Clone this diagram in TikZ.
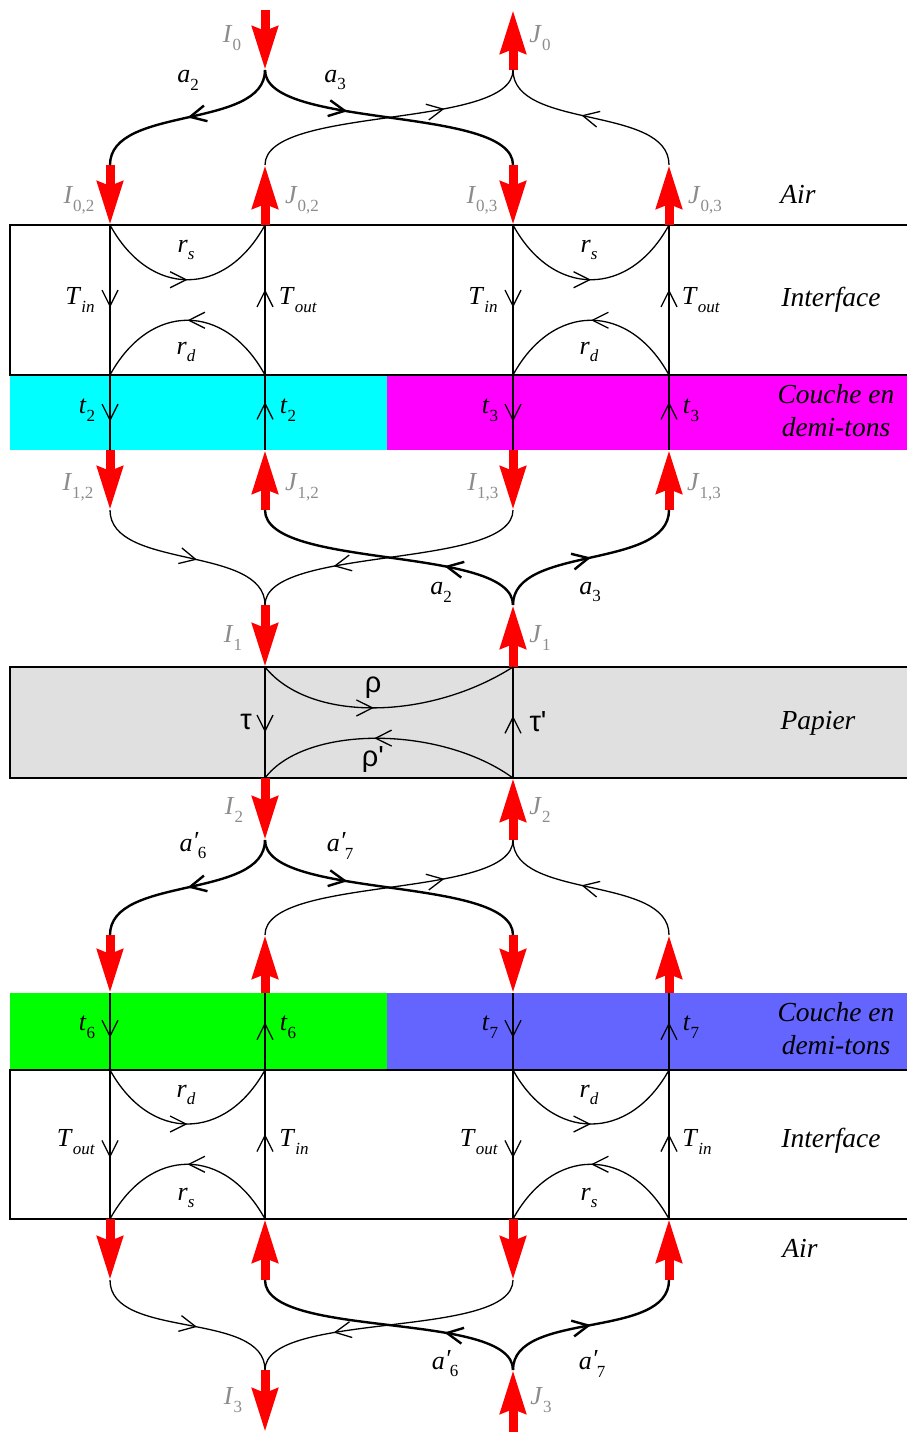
\documentclass[tikz,border=0pt]{standalone}
\usepackage{fontspec}
\setmainfont{Liberation Serif}
\newfontfamily\grk{Liberation Sans}
\usetikzlibrary{arrows.meta,decorations.markings}
\definecolor{lgray}{RGB}{224,224,224}
\definecolor{tgray}{RGB}{140,140,140}
\definecolor{hblue}{RGB}{100,100,255}
\definecolor{hcyan}{RGB}{0,255,255}
\definecolor{hmag}{RGB}{255,0,255}
\definecolor{hgreen}{RGB}{0,255,0}
\definecolor{hred}{RGB}{255,0,0}
\newcommand\sbs[1]{\raisebox{-0.3em}{\fontsize{17}{17}\selectfont #1}}
\newcommand\vr[2]{\textit{#1}\sbs{#2}}
\newcommand\ap[1]{\textit{a}\raisebox{0.05em}{\textit{\char"2032}}\kern-1pt\sbs{#1}}
\begin{document}
\begin{tikzpicture}[x=1pt,y=-1pt,
 redarr/.style={draw=hred,line width=9pt,-{Stealth[length=43pt,width=25pt,inset=4pt,fill=hred]}},
 thinc/.style={line width=1.3pt},
 thickc/.style={line width=2.4pt},
 midarr/.style={postaction={decorate},decoration={markings,mark=at position #1 with {\arrow{Straight Barb[length=16pt,width=16pt]}}}},
 lab/.style={font=\fontsize{26}{30}\selectfont, inner sep=0pt},
 glab/.style={lab,text=tgray},
 side/.style={inner sep=0pt,font=\fontsize{27.5}{33}\selectfont\itshape,align=center},
 grl/.style={inner sep=0pt,font=\fontsize{29}{30}\selectfont\grk},
 layer/.style={line width=1.5pt}]
\useasboundingbox (0,0) rectangle (907,1434);
% layers
\fill[hcyan] (10,375) rectangle (387,450);
\fill[hmag] (387,375) rectangle (907,450);
\fill[lgray] (10,667) rectangle (907,778);
\fill[hgreen] (10,993) rectangle (387,1070);
\fill[hblue] (387,993) rectangle (907,1070);
\draw[layer] (907,225) -- (10,225) -- (10,375) -- (907,375);
\draw[layer] (907,667) -- (10,667) -- (10,778) -- (907,778);
\draw[layer] (907,1070) -- (10,1070) -- (10,1219) -- (907,1219);
% coordinates
\coordinate (I0s) at (265,10); \coordinate (S0) at (265,70);
\coordinate (J0e) at (513,10); \coordinate (T0) at (513,70);
\foreach \n/\x in {A/110,B/265,C/513,D/669}{
  \coordinate (\n1) at (\x,165); \coordinate (\n2) at (\x,225);
  \coordinate (\n3) at (\x,375); \coordinate (\n4) at (\x,450);
  \coordinate (\n5) at (\x,510);
  \coordinate (\n6) at (\x,935); \coordinate (\n7) at (\x,993);
  \coordinate (\n8) at (\x,1070); \coordinate (\n9) at (\x,1219);
  \coordinate (\n10) at (\x,1280);}
\coordinate (S1) at (265,605); \coordinate (T1) at (513,605);
\coordinate (P1) at (265,667); \coordinate (Q1) at (513,667);
\coordinate (P2) at (265,778); \coordinate (Q2) at (513,778);
\coordinate (S2) at (265,840); \coordinate (T2) at (513,840);
\coordinate (S3) at (265,1370); \coordinate (T3) at (513,1370);
\coordinate (I3e) at (265,1432); \coordinate (J3s) at (513,1432);
% red arrows
\draw[redarr] (I0s) -- (S0); \draw[redarr] (T0) -- (J0e);
\draw[redarr] (A1) -- (A2); \draw[redarr] (B2) -- (B1);
\draw[redarr] (C1) -- (C2); \draw[redarr] (D2) -- (D1);
\draw[redarr] (A4) -- (A5); \draw[redarr] (B5) -- (B4);
\draw[redarr] (C4) -- (C5); \draw[redarr] (D5) -- (D4);
\draw[redarr] (S1) -- (P1); \draw[redarr] (Q1) -- (T1);
\draw[redarr] (P2) -- (S2); \draw[redarr] (T2) -- (Q2);
\draw[redarr] (A6) -- (A7); \draw[redarr] (B7) -- (B6);
\draw[redarr] (C6) -- (C7); \draw[redarr] (D7) -- (D6);
\draw[redarr] (A9) -- (A10); \draw[redarr] (B10) -- (B9);
\draw[redarr] (C9) -- (C10); \draw[redarr] (D10) -- (D9);
\draw[redarr] (S3) -- (I3e); \draw[redarr] (J3s) -- (T3);
% top crossing
\draw[thickc,midarr=0.5] (S0) .. controls +(0,60) and +(0,-60) .. (A1);
\draw[thickc,midarr=0.35] (S0) .. controls +(0,60) and +(0,-60) .. (C1);
\draw[thinc,midarr=0.7] (B1) .. controls +(0,-60) and +(0,60) .. (T0);
\draw[thinc,midarr=0.55] (D1) .. controls +(0,-60) and +(0,60) .. (T0);
% interface 1 and halftone 1, halftone 2 and interface 2
\foreach \u/\v in {A/B,C/D}{
  \draw[thinc,midarr=0.55] (\u2) -- (\u3);
  \draw[thinc,midarr=0.57] (\v3) -- (\v2);
  \draw[thinc,midarr=0.5] (\u2) .. controls +(40,73) and +(-40,73) .. (\v2);
  \draw[thinc,midarr=0.5] (\v3) .. controls +(-40,-73) and +(40,-73) .. (\u3);
  \draw[thinc,midarr=0.62] (\u3) -- (\u4);
  \draw[thinc,midarr=0.64] (\v4) -- (\v3);
  \draw[thinc,midarr=0.58] (\u7) -- (\u8);
  \draw[thinc,midarr=0.62] (\v8) -- (\v7);
  \draw[thinc,midarr=0.59] (\u8) -- (\u9);
  \draw[thinc,midarr=0.57] (\v9) -- (\v8);
  \draw[thinc,midarr=0.5] (\u8) .. controls +(40,72) and +(-40,72) .. (\v8);
  \draw[thinc,midarr=0.5] (\v9) .. controls +(-40,-73) and +(40,-73) .. (\u9);}
% middle crossing
\draw[thinc,midarr=0.55] (A5) .. controls +(0,60) and +(0,-60) .. (S1);
\draw[thinc,midarr=0.7] (C5) .. controls +(0,60) and +(0,-60) .. (S1);
\draw[thickc,midarr=0.3] (T1) .. controls +(0,-60) and +(0,60) .. (B5);
\draw[thickc,midarr=0.5] (T1) .. controls +(0,-60) and +(0,60) .. (D5);
% paper
\draw[thinc,midarr=0.59] (P1) -- (P2);
\draw[thinc,midarr=0.56] (Q2) -- (Q1);
\draw[thinc,midarr=0.45] (P1) .. controls +(45,56) and +(-83,53) .. (Q1);
\draw[thinc,midarr=0.55] (Q2) .. controls +(-73,-53) and +(40,-53) .. (P2);
% lower crossing
\draw[thickc,midarr=0.5] (S2) .. controls +(0,60) and +(0,-60) .. (A6);
\draw[thickc,midarr=0.35] (S2) .. controls +(0,60) and +(0,-60) .. (C6);
\draw[thinc,midarr=0.7] (B6) .. controls +(0,-60) and +(0,60) .. (T2);
\draw[thinc,midarr=0.55] (D6) .. controls +(0,-60) and +(0,60) .. (T2);
% bottom crossing
\draw[thinc,midarr=0.55] (A10) .. controls +(0,60) and +(0,-60) .. (S3);
\draw[thinc,midarr=0.7] (C10) .. controls +(0,60) and +(0,-60) .. (S3);
\draw[thickc,midarr=0.3] (T3) .. controls +(0,-60) and +(0,60) .. (B10);
\draw[thickc,midarr=0.5] (T3) .. controls +(0,-60) and +(0,60) .. (D10);
% gray labels
\node[glab] (lI0) at (232,38) {\vr{I}{0}};
\node[glab] (lJ0) at (540,38) {\vr{J}{0}};
\node[glab] (lI02) at (79,200) {\vr{I}{0,2}};
\node[glab] (lJ02) at (302,200) {\vr{J}{0,2}};
\node[glab] (lI03) at (482,200) {\vr{I}{0,3}};
\node[glab] (lJ03) at (705,200) {\vr{J}{0,3}};
\node[glab] (lI12) at (78,487) {\vr{I}{1,2}};
\node[glab] (lJ12) at (302,487) {\vr{J}{1,2}};
\node[glab] (lI13) at (483,487) {\vr{I}{1,3}};
\node[glab] (lJ13) at (704,487) {\vr{J}{1,3}};
\node[glab] (lI1) at (233,638) {\vr{I}{1}};
\node[glab] (lJ1) at (540,638) {\vr{J}{1}};
\node[glab] (lI2) at (234,810) {\vr{I}{2}};
\node[glab] (lJ2) at (540,810) {\vr{J}{2}};
\node[glab] (lI3) at (233,1400) {\vr{I}{3}};
\node[glab] (lJ3) at (541,1400) {\vr{J}{3}};
% black labels
\node[lab] (la2t) at (188,80) {\vr{a}{2}};
\node[lab] (la3t) at (335,80) {\vr{a}{3}};
\node[lab] (la2m) at (441,592) {\vr{a}{2}};
\node[lab] (la3m) at (590,592) {\vr{a}{3}};
\node[lab] (la6t) at (193,846) {\ap{6}};
\node[lab] (la7t) at (340,846) {\ap{7}};
\node[lab] (la6b) at (445,1364) {\ap{6}};
\node[lab] (la7b) at (592,1364) {\ap{7}};
\foreach \dx/\k in {0/a,403/b}{
  \node[lab] (rs\k) at (186+\dx,250) {\vr{r}{\textit{s}}};
  \node[lab] (rd\k) at (186+\dx,352) {\vr{r}{\textit{d}}};
  \node[lab] (Ti\k) at (80+\dx,300) {\vr{T}{\textit{in}}};
  \node[lab] (To\k) at (298+\dx,300) {\vr{T}{\textit{out}}};
  \node[lab] (rd2\k) at (186+\dx,1095) {\vr{r}{\textit{d}}};
  \node[lab] (rs2\k) at (186+\dx,1198) {\vr{r}{\textit{s}}};
  \node[lab] (To2\k) at (76+\dx,1142) {\vr{T}{\textit{out}}};
  \node[lab] (Ti2\k) at (294+\dx,1142) {\vr{T}{\textit{in}}};}
\node[lab] (t2a) at (87,410) {\vr{t}{2}};
\node[lab] (t2b) at (288,410) {\vr{t}{2}};
\node[lab] (t3a) at (490,410) {\vr{t}{3}};
\node[lab] (t3b) at (691,410) {\vr{t}{3}};
\node[lab] (t6a) at (87,1027) {\vr{t}{6}};
\node[lab] (t6b) at (288,1027) {\vr{t}{6}};
\node[lab] (t7a) at (490,1027) {\vr{t}{7}};
\node[lab] (t7b) at (691,1027) {\vr{t}{7}};
% greek
\node[grl] (tau) at (246,722) {τ};
\node[grl] (taup) at (538,722) {τ\textquotesingle};
\node[grl] (rho) at (373,688) {ρ};
\node[grl] (rhop) at (373,760) {ρ\textquotesingle};
% side labels
\node[side] (air1) at (798,194) {Air};
\node[side] (int1) at (831,300) {Interface};
\node[side] (ht1) at (836,411) {Couche en\\demi-tons};
\node[side] (pap) at (818,723) {Papier};
\node[side] (ht2) at (836,1029) {Couche en\\demi-tons};
\node[side] (int2) at (831,1141) {Interface};
\node[side] (air2) at (800,1248) {Air};
\end{tikzpicture}
\end{document}
